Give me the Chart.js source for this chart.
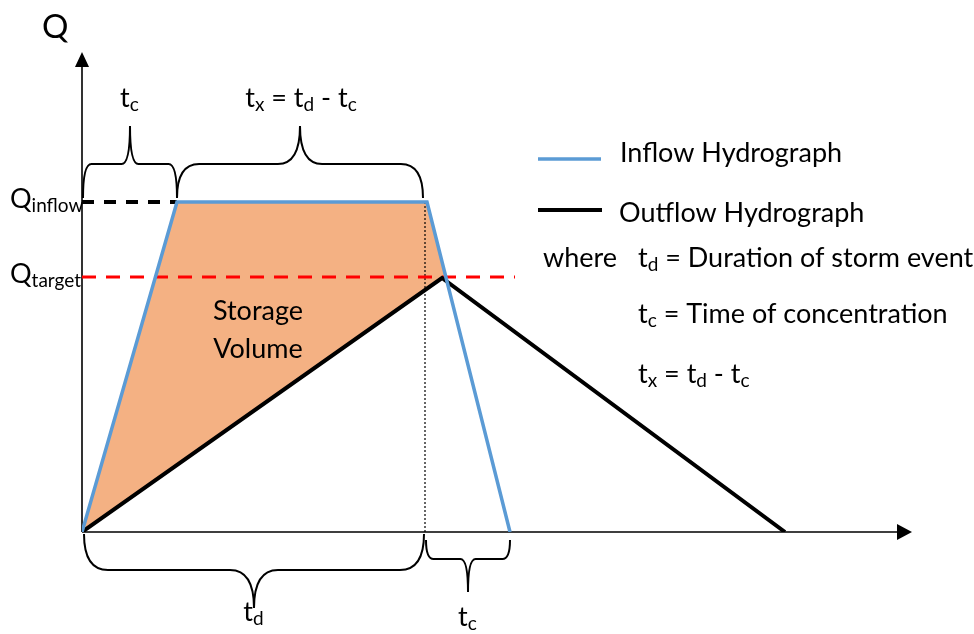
<!DOCTYPE html>
<html>
<head>
<meta charset="utf-8">
<script src="https://cdn.jsdelivr.net/npm/chart.js@4.4.1/dist/chart.umd.min.js"></script>
<style>
  html, body { margin: 0; padding: 0; background: #fff; }
  #grafico { display: block; }
</style>
</head>
<body>
<canvas id="grafico" width="974" height="634"></canvas>
<script>
// Dados do esquema (tempo e vazão em unidades do desenho)
const inflowT = [0, 95, 345, 428];
const inflowQ = [0, 330, 330, 0];
const outflowT = [0, 360, 703];
const outflowQ = [0, 254, 0];
const qInflow = 330;
const qTarget = 255;
const tc = 95;          // tempo de concentração (subida)
const td = 343;         // duração da chuva
const tEnd = 428;       // fim do hidrograma de entrada
const qTargetEnd = 433; // onde acaba a linha tracejada vermelha

const FONT = 'Lato, "Open Sans", sans-serif';
const TAM = 27;

function pts(xs, ys) {
    return xs.map(function (x, i) { return { x: x, y: ys[i] }; });
}

// texto com subscritos: parts = [['t'], ['c', true], [' = ']]
function richText(ctx, parts, x, y, size, align) {
    var subSize = Math.round(size * 0.7);
    var w = 0;
    parts.forEach(function (p) {
        ctx.font = (p[1] ? subSize : size) + 'px ' + FONT;
        w += ctx.measureText(p[0]).width;
    });
    var cx = x;
    if (align === 'center') cx = x - w / 2;
    ctx.textAlign = 'left';
    ctx.textBaseline = 'alphabetic';
    ctx.fillStyle = '#000';
    parts.forEach(function (p) {
        ctx.font = (p[1] ? subSize : size) + 'px ' + FONT;
        ctx.fillText(p[0], cx, p[1] ? y + size * 0.15 : y);
        cx += ctx.measureText(p[0]).width;
    });
}

// chave (brace) entre x1 e x2; yBase = pontas, yMid = linha, yTip = bico
function brace(ctx, x1, x2, yBase, yMid, yTip) {
    var r = Math.min(24, (x2 - x1) * 0.09);
    var xm = (x1 + x2) / 2;
    ctx.beginPath();
    ctx.moveTo(x1, yBase);
    ctx.quadraticCurveTo(x1, yMid, x1 + r, yMid);
    ctx.lineTo(xm - r, yMid);
    ctx.quadraticCurveTo(xm, yMid, xm, yTip);
    ctx.quadraticCurveTo(xm, yMid, xm + r, yMid);
    ctx.lineTo(x2 - r, yMid);
    ctx.quadraticCurveTo(x2, yMid, x2, yBase);
    ctx.stroke();
}

var eixosPlugin = {
    id: 'eixos',
    beforeDatasetsDraw: function (chart) {
        var ctx = chart.ctx, x = chart.scales.x, y = chart.scales.y;
        var x0 = x.getPixelForValue(0), y0 = y.getPixelForValue(0);
        var xr = x.right, yt = y.top;
        ctx.save();
        ctx.strokeStyle = '#000';
        ctx.fillStyle = '#000';
        ctx.lineWidth = 1.6;
        ctx.beginPath();
        ctx.moveTo(x0, y0); ctx.lineTo(x0, yt + 10);
        ctx.moveTo(x0, y0); ctx.lineTo(xr - 10, y0);
        ctx.stroke();
        ctx.beginPath();
        ctx.moveTo(x0, yt); ctx.lineTo(x0 - 7, yt + 15); ctx.lineTo(x0 + 7, yt + 15); ctx.closePath();
        ctx.fill();
        ctx.beginPath();
        ctx.moveTo(xr, y0); ctx.lineTo(xr - 15, y0 - 8); ctx.lineTo(xr - 15, y0 + 8); ctx.closePath();
        ctx.fill();
        ctx.restore();
    },
    afterDatasetsDraw: function (chart) {
        var ctx = chart.ctx, x = chart.scales.x, y = chart.scales.y;
        var px = function (v) { return x.getPixelForValue(v); };
        var py = function (v) { return y.getPixelForValue(v); };
        ctx.save();
        ctx.strokeStyle = '#000';
        ctx.lineWidth = 2;

        // chaves de cima
        brace(ctx, px(0) + 1, px(tc), py(qInflow) - 4, py(qInflow) - 38, py(qInflow) - 76);
        brace(ctx, px(tc), px(td) - 2, py(qInflow) - 4, py(qInflow) - 38, py(qInflow) - 76);
        // chaves de baixo
        brace(ctx, px(0) + 2, px(td) - 1, py(0) + 2, py(0) + 38, py(0) + 76);
        brace(ctx, px(td) + 1, px(tEnd), py(0) + 8, py(0) + 27, py(0) + 60);

        // textos
        richText(ctx, [['Q']], 42, 38, 33, 'left');
        richText(ctx, [['t'], ['c', true]], px(tc / 2), 107, TAM, 'center');
        richText(ctx, [['t'], ['x', true], [' = t'], ['d', true], [' - t'], ['c', true]], px((tc + td) / 2), 107, TAM, 'center');
        richText(ctx, [['t'], ['d', true]], px(td / 2), 621, TAM, 'center');
        richText(ctx, [['t'], ['c', true]], px((td + tEnd) / 2), 626, TAM, 'center');
        richText(ctx, [['Q'], ['inflow', true]], 10, py(qInflow) + 6, TAM, 'left');
        richText(ctx, [['Q'], ['target', true]], 10, py(qTarget) + 6, TAM, 'left');
        richText(ctx, [['Storage']], 258, 320, TAM, 'center');
        richText(ctx, [['Volume']], 258, 358, TAM, 'center');

        // legenda
        ctx.lineCap = 'butt';
        ctx.strokeStyle = '#5b9bd5';
        ctx.lineWidth = 3.5;
        ctx.beginPath(); ctx.moveTo(538, 159); ctx.lineTo(601, 159); ctx.stroke();
        ctx.strokeStyle = '#000';
        ctx.lineWidth = 4;
        ctx.beginPath(); ctx.moveTo(538, 210); ctx.lineTo(602, 210); ctx.stroke();
        richText(ctx, [['Inflow Hydrograph']], 620, 162, TAM, 'left');
        richText(ctx, [['Outflow Hydrograph']], 619, 222, TAM, 'left');
        richText(ctx, [['where']], 543, 267, TAM, 'left');
        richText(ctx, [['t'], ['d', true], [' = Duration of storm event']], 638, 267, TAM, 'left');
        richText(ctx, [['t'], ['c', true], [' = Time of concentration']], 638, 323, TAM, 'left');
        richText(ctx, [['t'], ['x', true], [' = t'], ['d', true], [' - t'], ['c', true]], 638, 383, TAM, 'left');
        ctx.restore();
    }
};

var ctxGrafico = document.getElementById('grafico').getContext('2d');
var grafico = new Chart(ctxGrafico, {
    type: 'scatter',
    data: {
        datasets: [{
            label: 'Inflow Hydrograph',
            data: pts(inflowT, inflowQ),
            showLine: true,
            borderColor: '#5b9bd5',
            borderWidth: 3.5,
            pointRadius: 0,
            fill: { target: 1, above: '#f4b183', below: 'rgba(0,0,0,0)' }
        }, {
            label: 'Outflow Hydrograph',
            data: pts(outflowT, outflowQ),
            showLine: true,
            borderColor: '#000',
            borderWidth: 4,
            pointRadius: 0
        }, {
            label: 'Q inflow',
            data: pts([0, tc], [qInflow, qInflow]),
            showLine: true,
            borderColor: '#000',
            borderWidth: 4,
            borderDash: [12, 10],
            pointRadius: 0
        }, {
            label: 'Q target',
            data: pts([0, qTargetEnd], [qTarget, qTarget]),
            showLine: true,
            borderColor: '#ff0000',
            borderWidth: 3,
            borderDash: [14, 10],
            pointRadius: 0
        }, {
            label: 'td',
            data: pts([td, td], [-8, qInflow + 2]),
            showLine: true,
            borderColor: '#000',
            borderWidth: 1.2,
            borderDash: [2, 2],
            pointRadius: 0
        }]
    },
    options: {
        responsive: false,
        animation: false,
        layout: { padding: { left: 82, right: 62, top: 52, bottom: 102 } },
        scales: {
            x: { type: 'linear', min: 0, max: 830, display: false },
            y: { type: 'linear', min: 0, max: 480, display: false }
        },
        plugins: {
            legend: { display: false },
            tooltip: { enabled: false },
            filler: { drawTime: 'beforeDatasetsDraw' }
        }
    },
    plugins: [eixosPlugin]
});
</script>
</body>
</html>
